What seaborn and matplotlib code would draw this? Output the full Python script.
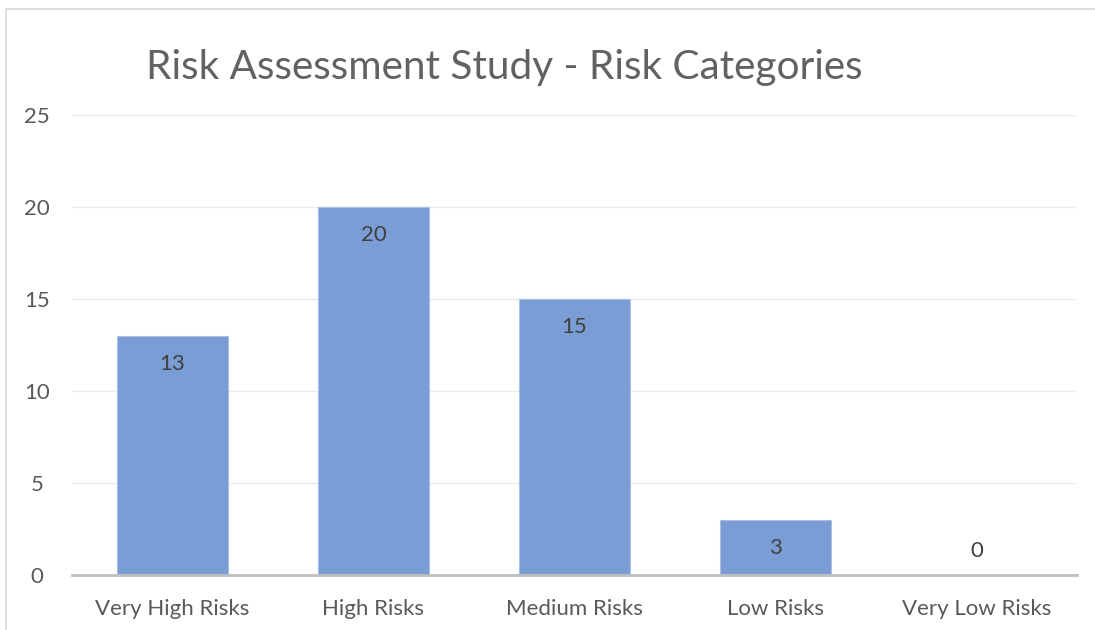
# -*- coding: utf-8 -*-

import matplotlib
matplotlib.use("Agg")
import matplotlib.pyplot as plt
from matplotlib.patches import Rectangle
import pandas as pd
import seaborn as sns


categories = ["Very High Risks", "High Risks", "Medium Risks", "Low Risks", "Very Low Risks"]
counts = [13, 20, 15, 3, 0]
y_ticks = [0, 5, 10, 15, 20, 25]
title = "Risk Assessment Study - Risk Categories"


def plot_risk_categories(df):
    """Excel-style column chart of risk counts."""
    sns.set_style("white")
    plt.rcParams["font.family"] = ["Lato", "DejaVu Sans"]

    fig = plt.figure(figsize=(10.95, 6.3), dpi=100)
    ax = fig.add_axes([72 / 1095, 55 / 630, 1005 / 1095, 460 / 630])

    sns.barplot(data=df, x="category", y="count", color="#7A9DD5",
                saturation=1, width=0.557, edgecolor="#A9C0E6", linewidth=0.8,
                ax=ax, zorder=3)

    # value labels inside the top of each bar
    for i, v in enumerate(df["count"]):
        offset = -20 if v > 0 else 17
        ax.annotate(str(v), (i, v), xytext=(0, offset), textcoords="offset points",
                    ha="center", va="center", fontsize=16, color="#404040", zorder=4)

    ax.set_ylim(0, 25)
    ax.set_xlim(-0.5, len(df) - 0.5)
    ax.set_yticks(y_ticks)
    ax.yaxis.grid(True, color="#EBEBEB", linewidth=1, zorder=0)
    ax.set_xlabel("")
    ax.set_ylabel("")

    for side in ["top", "right", "left"]:
        ax.spines[side].set_visible(False)
    ax.spines["bottom"].set_color("#BFBFBF")
    ax.spines["bottom"].set_linewidth(2)
    ax.spines["bottom"].set_zorder(5)

    ax.tick_params(axis="both", length=0, labelsize=16, labelcolor="#595959")
    ax.tick_params(axis="y", pad=25)
    ax.tick_params(axis="x", pad=17)
    for lab in ax.get_yticklabels():
        lab.set_horizontalalignment("center")

    fig.text(504 / 1095, 1 - 67 / 630, title, ha="center", va="center",
             fontsize=29.2, color="#626262", fontweight="normal")

    # chart frame
    fig.patches.append(Rectangle((6 / 1095, -0.05), 1.2, 1.05 - 9 / 630,
                                 transform=fig.transFigure, fill=False,
                                 edgecolor="#D9D9D9", linewidth=1.2))

    fig.savefig("out.png", dpi=100)


def main():
    df = pd.DataFrame({"category": categories, "count": counts})
    plot_risk_categories(df)


if __name__ == "__main__":
    main()
